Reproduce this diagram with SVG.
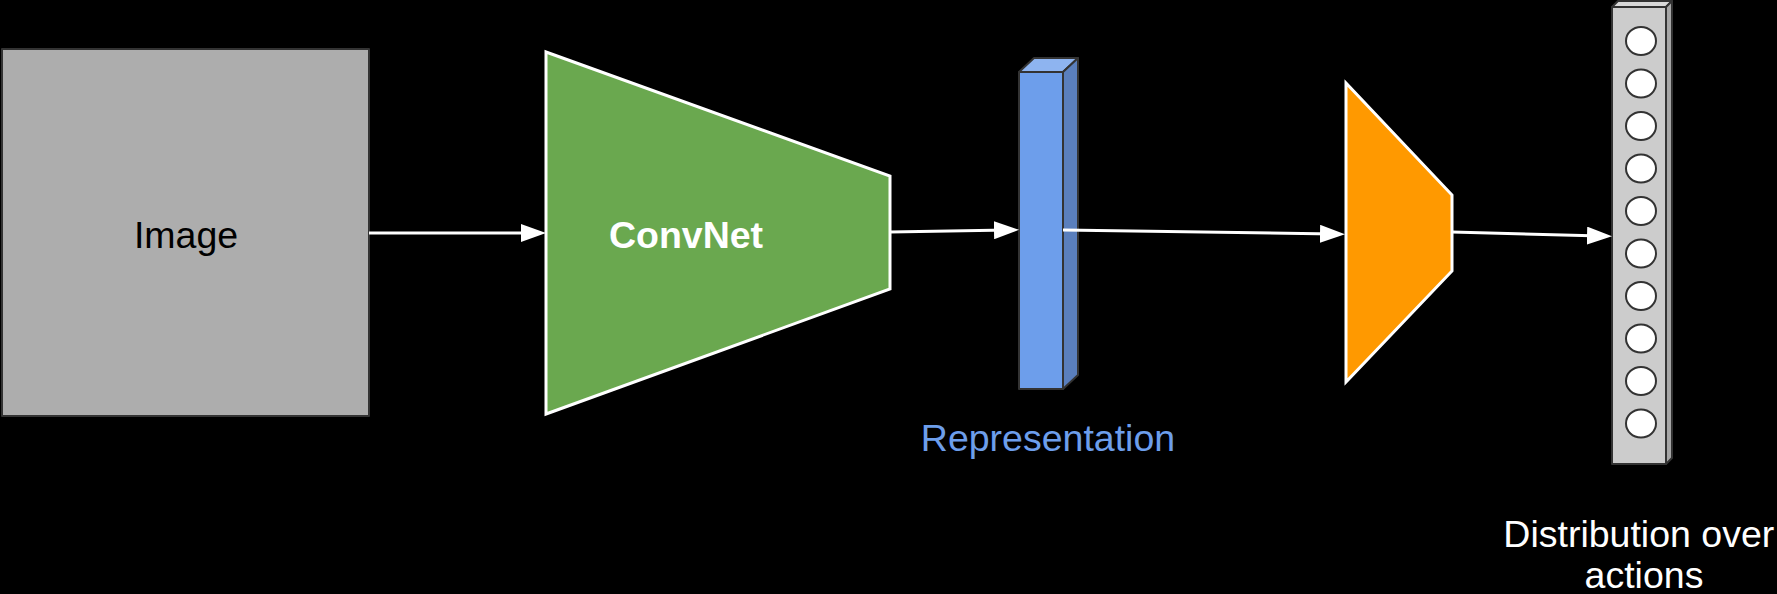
<svg xmlns="http://www.w3.org/2000/svg" width="1777" height="594" viewBox="0 0 1777 594">
  <style>
    .label { font-family: "Liberation Sans", Arial, sans-serif; font-size: 37.5px; text-anchor: middle; }
    .edge { fill: none; stroke: #ffffff; stroke-width: 3; marker-end: url(#head); }
    .outline { stroke: #333333; stroke-width: 2; stroke-linejoin: round; }
    .white-edge { stroke: #ffffff; stroke-width: 3; stroke-linejoin: miter; }
    .unit { fill: #ffffff; stroke: #333333; stroke-width: 2; }
  </style>
  <defs>
    <marker id="head" viewBox="0 0 25 18" refX="14" refY="9" markerWidth="25" markerHeight="18" markerUnits="userSpaceOnUse" orient="auto">
      <path d="M0,0 L25,9 L0,18 Z" fill="#ffffff"/>
    </marker>
  </defs>

  <rect x="0" y="0" width="1777" height="594" fill="#000000"/>

  <!-- input image -->
  <g id="image">
    <rect class="outline" x="2" y="49" width="367" height="367" fill="#adadad"/>
    <text class="label" x="186" y="248" fill="#000000">Image</text>
  </g>

  <!-- convolutional encoder -->
  <g id="convnet">
    <polygon class="white-edge" points="546,52 890,176 890,289 546,414" fill="#6aa84f"/>
    <text class="label" x="686" y="248" fill="#ffffff" font-weight="bold">ConvNet</text>
  </g>

  <!-- feature vector -->
  <g id="representation">
    <polygon class="outline" points="1019,72 1034,58 1078,58 1063,72" fill="#8eb4f0"/>
    <polygon class="outline" points="1063,72 1078,58 1078,375 1063,389" fill="#5a7fbd"/>
    <rect class="outline" x="1019" y="72" width="44" height="317" fill="#6d9eeb"/>
    <text class="label" x="1048" y="451" fill="#6d9eeb">Representation</text>
  </g>

  <!-- policy head -->
  <g id="head-layer">
    <polygon class="white-edge" points="1346,83 1452,195 1452,271 1346,382" fill="#ff9900"/>
  </g>

  <!-- output distribution -->
  <g id="distribution">
    <polygon class="outline" points="1612,7 1618,1 1672,1 1666,7" fill="#d9d9d9"/>
    <polygon class="outline" points="1666,7 1672,1 1672,458 1666,464" fill="#a6a6a6"/>
    <rect class="outline" x="1612" y="7" width="54" height="457" fill="#cccccc"/>
    <ellipse class="unit" cx="1641" cy="41" rx="15" ry="14"/>
    <ellipse class="unit" cx="1641" cy="83.5" rx="15" ry="14"/>
    <ellipse class="unit" cx="1641" cy="126" rx="15" ry="14"/>
    <ellipse class="unit" cx="1641" cy="168.5" rx="15" ry="14"/>
    <ellipse class="unit" cx="1641" cy="211" rx="15" ry="14"/>
    <ellipse class="unit" cx="1641" cy="253.5" rx="15" ry="14"/>
    <ellipse class="unit" cx="1641" cy="296" rx="15" ry="14"/>
    <ellipse class="unit" cx="1641" cy="338.5" rx="15" ry="14"/>
    <ellipse class="unit" cx="1641" cy="381" rx="15" ry="14"/>
    <ellipse class="unit" cx="1641" cy="423.5" rx="15" ry="14"/>
    <text class="label" fill="#ffffff">
      <tspan x="1644" y="547">Distribution over</tspan>
      <tspan x="1644" y="588">actions</tspan>
    </text>
  </g>

  <!-- connectors -->
  <g id="connectors">
    <path class="edge" d="M369,233 L535,233"/>
    <path class="edge" d="M890,232 L1008,230"/>
    <path class="edge" d="M1063,230 L1334,234"/>
    <path class="edge" d="M1452,232 L1601,236"/>
  </g>
</svg>
